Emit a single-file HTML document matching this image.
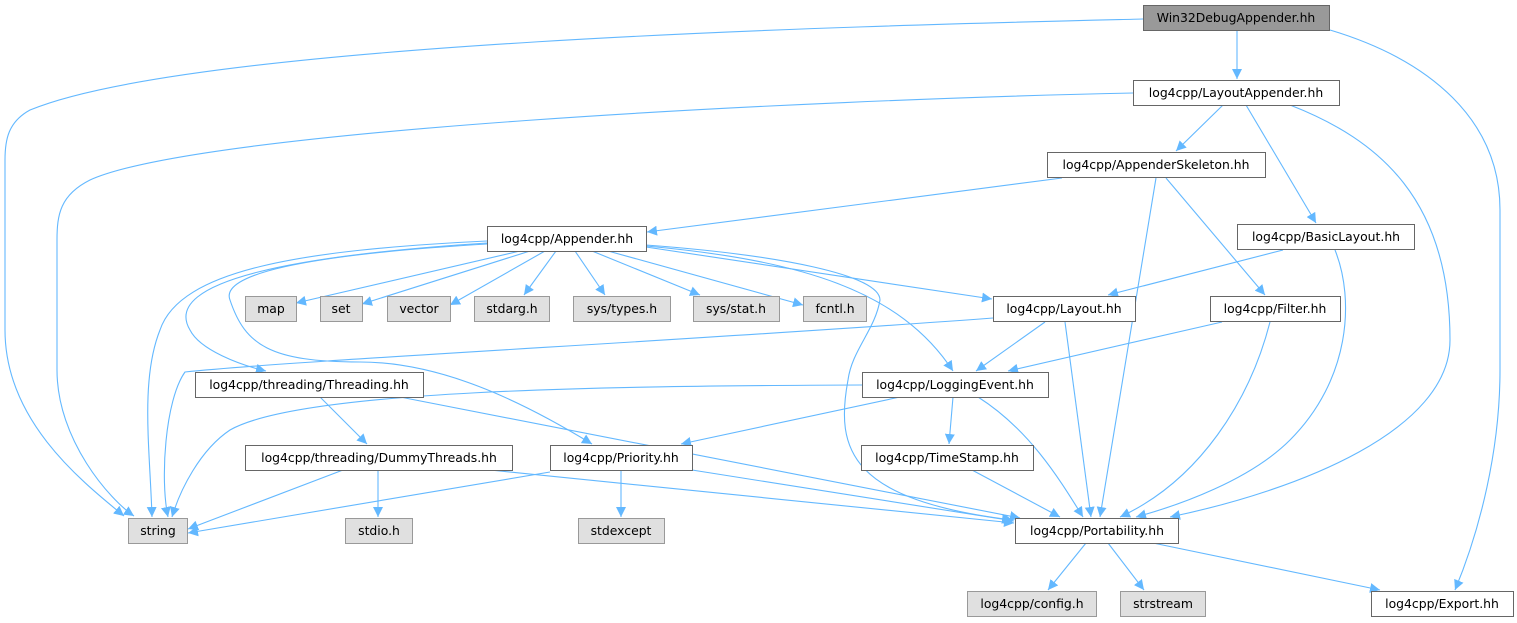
<!DOCTYPE html>
<html><head><meta charset="utf-8"><style>
html,body{margin:0;padding:0;background:#fff;width:1517px;height:623px;overflow:hidden}
svg text{font-family:"DejaVu Sans","Liberation Sans",sans-serif;font-size:12.4px;fill:#000}
</style></head><body>
<svg width="1517" height="623" viewBox="0 0 1517 623" xmlns="http://www.w3.org/2000/svg">
<defs><marker id="a" viewBox="0 0 10 10" refX="10" refY="5" markerWidth="10" markerHeight="10" markerUnits="userSpaceOnUse" orient="auto"><path d="M0,0 L10,5 L0,10 z" fill="#63b8ff"/></marker></defs>
<g fill="none" stroke="#63b8ff" stroke-width="1.1" marker-end="url(#a)">
<path d="M1143,19 C900,25 200,40 30,110 C8,122 5,140 5,160 L5,330 C5,420 80,480 124,516"/>
<path d="M1237,30 L1237,79"/>
<path d="M1330,30 C1430,60 1500,120 1500,210 L1500,370 C1500,450 1480,530 1455,590"/>
<path d="M1133,93 C800,100 200,130 90,180 C60,195 57,215 57,240 L57,370 C57,440 110,500 134,516"/>
<path d="M1223,105 L1176,151"/>
<path d="M1246,105 L1316,223"/>
<path d="M1290,105 C1380,140 1450,200 1450,340 C1450,430 1300,490 1170,517"/>
<path d="M1062,178 L647,232"/>
<path d="M1156,178 L1100,517"/>
<path d="M1166,178 L1265,295"/>
<path d="M1283,250 L1108,295"/>
<path d="M1335,250 C1355,300 1350,380 1290,440 C1250,480 1180,505 1136,517"/>
<path d="M1222,322 L1008,371"/>
<path d="M1270,322 C1250,400 1200,480 1120,517"/>
<path d="M520,251 L296,303"/>
<path d="M530,251 L362,304"/>
<path d="M545,251 L450,305"/>
<path d="M556,251 L524,295"/>
<path d="M575,251 L605,295"/>
<path d="M592,251 L700,295"/>
<path d="M608,251 L803,305"/>
<path d="M646,247 L992,299"/>
<path d="M646,246 C800,260 900,290 953,371"/>
<path d="M646,245 C780,255 880,275 880,300 C875,330 852,350 848,380 C835,450 850,500 1012,520"/>
<path d="M487,244 C300,255 220,275 230,300 C245,345 270,362 360,362 C440,362 520,400 592,444"/>
<path d="M487,243 C300,255 160,280 190,330 C200,350 240,365 266,371"/>
<path d="M487,241 C300,250 180,270 160,330 C140,380 150,450 152,517"/>
<path d="M993,318 C700,340 300,360 185,372 C165,400 160,480 168,517"/>
<path d="M1045,322 L976,371"/>
<path d="M1065,322 L1091,517"/>
<path d="M862,385 C600,386 300,390 230,430 C200,450 180,490 172,517"/>
<path d="M900,397 L681,444"/>
<path d="M953,397 L949,444"/>
<path d="M978,397 C1030,430 1060,480 1083,517"/>
<path d="M320,397 L367,444"/>
<path d="M400,397 L1020,518"/>
<path d="M343,470 L188,529"/>
<path d="M378,470 L378,517"/>
<path d="M490,470 L1014,523"/>
<path d="M550,472 L188,533"/>
<path d="M621,470 L621,517"/>
<path d="M692,470 L1014,521"/>
<path d="M972,470 L1060,517"/>
<path d="M1086,543 L1048,590"/>
<path d="M1108,543 L1144,590"/>
<path d="M1153,543 L1380,590"/>
</g>
<g stroke-width="1">
<rect x="1143.5" y="5.5" width="186" height="25" fill="#999" stroke="#666"/>
<g fill="#fff" stroke="#666">
<rect x="1133.5" y="80.5" width="206" height="25"/>
<rect x="1047.5" y="152.5" width="218" height="25"/>
<rect x="1237.5" y="224.5" width="177" height="25"/>
<rect x="487.5" y="226.5" width="159" height="25"/>
<rect x="993.5" y="296.5" width="142" height="25"/>
<rect x="1210.5" y="296.5" width="130" height="25"/>
<rect x="195.5" y="372.5" width="228" height="25"/>
<rect x="862.5" y="372.5" width="186" height="25"/>
<rect x="245.5" y="445.5" width="267" height="25"/>
<rect x="550.5" y="445.5" width="142" height="25"/>
<rect x="861.5" y="445.5" width="172" height="25"/>
<rect x="1015.5" y="518.5" width="163" height="25"/>
<rect x="1371.5" y="591.5" width="142" height="25"/>
</g>
<g fill="#e0e0e0" stroke="#999">
<rect x="245.5" y="296.5" width="51" height="25"/>
<rect x="320.5" y="296.5" width="42" height="25"/>
<rect x="387.5" y="296.5" width="63" height="25"/>
<rect x="474.5" y="296.5" width="75" height="25"/>
<rect x="573.5" y="296.5" width="97" height="25"/>
<rect x="693.5" y="296.5" width="86" height="25"/>
<rect x="803.5" y="296.5" width="63" height="25"/>
<rect x="128.5" y="518.5" width="59" height="25"/>
<rect x="345.5" y="518.5" width="67" height="25"/>
<rect x="578.5" y="518.5" width="86" height="25"/>
<rect x="967.5" y="591.5" width="129" height="25"/>
<rect x="1120.5" y="591.5" width="85" height="25"/>
</g>
</g>
<g text-anchor="middle">
<text x="1236" y="22">Win32DebugAppender.hh</text>
<text x="1236" y="97">log4cpp/LayoutAppender.hh</text>
<text x="1156" y="169">log4cpp/AppenderSkeleton.hh</text>
<text x="1326" y="241">log4cpp/BasicLayout.hh</text>
<text x="567" y="243">log4cpp/Appender.hh</text>
<text x="1064" y="313">log4cpp/Layout.hh</text>
<text x="1275" y="313">log4cpp/Filter.hh</text>
<text x="309" y="389">log4cpp/threading/Threading.hh</text>
<text x="955" y="389">log4cpp/LoggingEvent.hh</text>
<text x="379" y="462">log4cpp/threading/DummyThreads.hh</text>
<text x="621" y="462">log4cpp/Priority.hh</text>
<text x="947" y="462">log4cpp/TimeStamp.hh</text>
<text x="1097" y="535">log4cpp/Portability.hh</text>
<text x="1442" y="608">log4cpp/Export.hh</text>
<text x="271" y="313">map</text>
<text x="341" y="313">set</text>
<text x="419" y="313">vector</text>
<text x="512" y="313">stdarg.h</text>
<text x="622" y="313">sys/types.h</text>
<text x="736" y="313">sys/stat.h</text>
<text x="835" y="313">fcntl.h</text>
<text x="158" y="535">string</text>
<text x="379" y="535">stdio.h</text>
<text x="621" y="535">stdexcept</text>
<text x="1032" y="608">log4cpp/config.h</text>
<text x="1163" y="608">strstream</text>
</g>
</svg>
</body></html>
